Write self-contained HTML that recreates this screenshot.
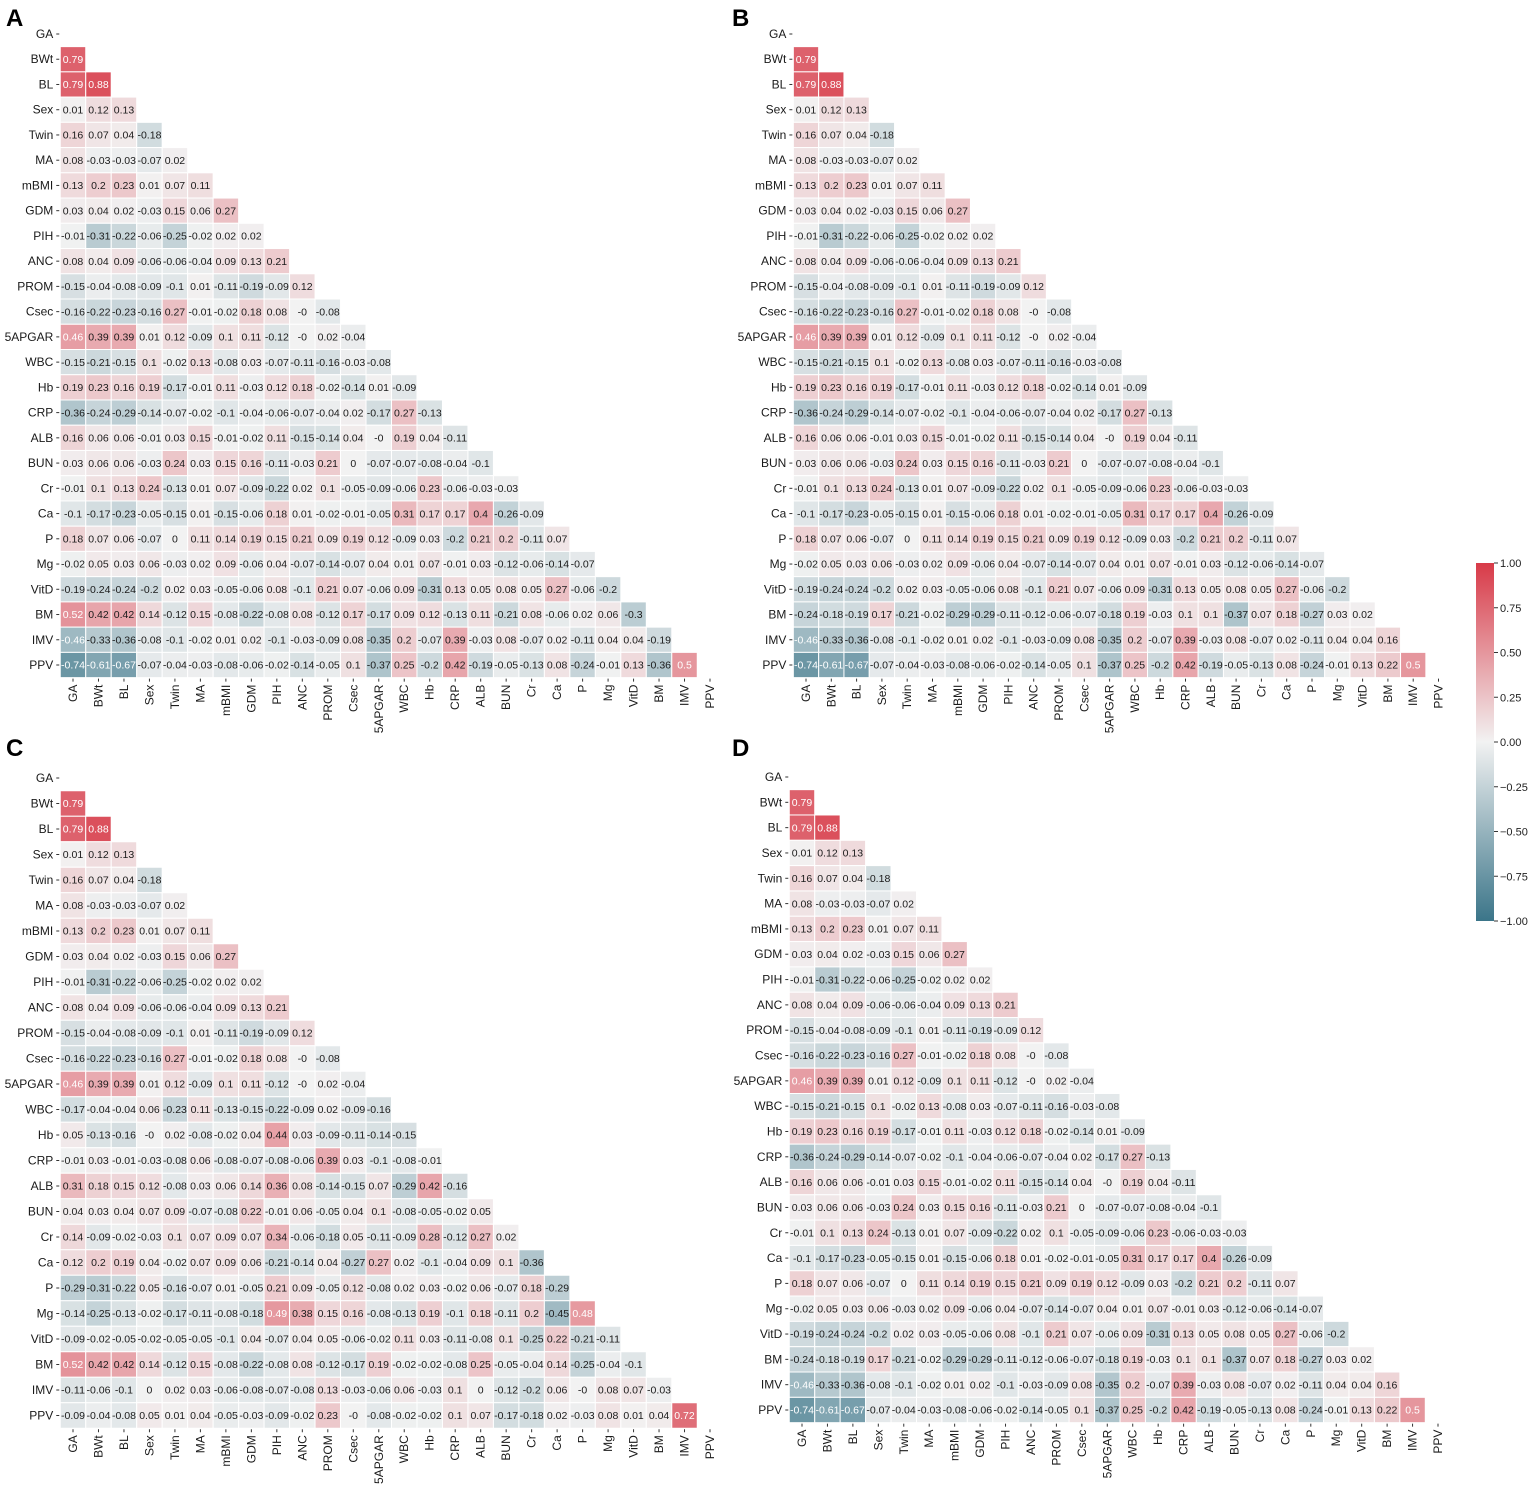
<!DOCTYPE html>
<html><head><meta charset="utf-8"><style>
html,body{margin:0;padding:0;background:#fff;}
svg{display:block;font-family:"Liberation Sans",sans-serif;}
</style></head><body>
<svg id="s" width="1535" height="1486" viewBox="0 0 1535 1486" xmlns="http://www.w3.org/2000/svg">
<text x="6" y="26" font-size="24" font-weight="bold">A</text>
<text x="732" y="26" font-size="24" font-weight="bold">B</text>
<text x="6" y="756" font-size="24" font-weight="bold">C</text>
<text x="732" y="756" font-size="24" font-weight="bold">D</text>
<defs><linearGradient id="cb" x1="0" y1="0" x2="0" y2="1">
<stop offset="0" stop-color="rgb(216,58,72)"/><stop offset="0.5" stop-color="rgb(242,242,242)"/><stop offset="1" stop-color="rgb(59,117,137)"/></linearGradient></defs>
<rect x="1476" y="563" width="18" height="358" fill="url(#cb)"/>
<g id="cbt" font-size="11" fill="#222"></g>
<g id="plots"></g>
</svg>
<script>
var L=["GA","BWt","BL","Sex","Twin","MA","mBMI","GDM","PIH","ANC","PROM","Csec","5APGAR","WBC","Hb","CRP","ALB","BUN","Cr","Ca","P","Mg","VitD","BM","IMV","PPV"];
var common=[
[],
["0.79"],
["0.79","0.88"],
["0.01","0.12","0.13"],
["0.16","0.07","0.04","-0.18"],
["0.08","-0.03","-0.03","-0.07","0.02"],
["0.13","0.2","0.23","0.01","0.07","0.11"],
["0.03","0.04","0.02","-0.03","0.15","0.06","0.27"],
["-0.01","-0.31","-0.22","-0.06","-0.25","-0.02","0.02","0.02"],
["0.08","0.04","0.09","-0.06","-0.06","-0.04","0.09","0.13","0.21"],
["-0.15","-0.04","-0.08","-0.09","-0.1","0.01","-0.11","-0.19","-0.09","0.12"],
["-0.16","-0.22","-0.23","-0.16","0.27","-0.01","-0.02","0.18","0.08","-0","-0.08"],
["0.46","0.39","0.39","0.01","0.12","-0.09","0.1","0.11","-0.12","-0","0.02","-0.04"]];
var lowA=[
["-0.15","-0.21","-0.15","0.1","-0.02","0.13","-0.08","0.03","-0.07","-0.11","-0.16","-0.03","-0.08"],
["0.19","0.23","0.16","0.19","-0.17","-0.01","0.11","-0.03","0.12","0.18","-0.02","-0.14","0.01","-0.09"],
["-0.36","-0.24","-0.29","-0.14","-0.07","-0.02","-0.1","-0.04","-0.06","-0.07","-0.04","0.02","-0.17","0.27","-0.13"],
["0.16","0.06","0.06","-0.01","0.03","0.15","-0.01","-0.02","0.11","-0.15","-0.14","0.04","-0","0.19","0.04","-0.11"],
["0.03","0.06","0.06","-0.03","0.24","0.03","0.15","0.16","-0.11","-0.03","0.21","0","-0.07","-0.07","-0.08","-0.04","-0.1"],
["-0.01","0.1","0.13","0.24","-0.13","0.01","0.07","-0.09","-0.22","0.02","0.1","-0.05","-0.09","-0.06","0.23","-0.06","-0.03","-0.03"],
["-0.1","-0.17","-0.23","-0.05","-0.15","0.01","-0.15","-0.06","0.18","0.01","-0.02","-0.01","-0.05","0.31","0.17","0.17","0.4","-0.26","-0.09"],
["0.18","0.07","0.06","-0.07","0","0.11","0.14","0.19","0.15","0.21","0.09","0.19","0.12","-0.09","0.03","-0.2","0.21","0.2","-0.11","0.07"],
["-0.02","0.05","0.03","0.06","-0.03","0.02","0.09","-0.06","0.04","-0.07","-0.14","-0.07","0.04","0.01","0.07","-0.01","0.03","-0.12","-0.06","-0.14","-0.07"],
["-0.19","-0.24","-0.24","-0.2","0.02","0.03","-0.05","-0.06","0.08","-0.1","0.21","0.07","-0.06","0.09","-0.31","0.13","0.05","0.08","0.05","0.27","-0.06","-0.2"]];
var tailA=[
["0.52","0.42","0.42","0.14","-0.12","0.15","-0.08","-0.22","-0.08","0.08","-0.12","0.17","-0.17","0.09","0.12","-0.13","0.11","-0.21","0.08","-0.06","0.02","0.06","-0.3"],
["-0.46","-0.33","-0.36","-0.08","-0.1","-0.02","0.01","0.02","-0.1","-0.03","-0.09","0.08","-0.35","0.2","-0.07","0.39","-0.03","0.08","-0.07","0.02","-0.11","0.04","0.04","-0.19"],
["-0.74","-0.61","-0.67","-0.07","-0.04","-0.03","-0.08","-0.06","-0.02","-0.14","-0.05","0.1","-0.37","0.25","-0.2","0.42","-0.19","-0.05","-0.13","0.08","-0.24","-0.01","0.13","-0.36","0.5"]];
var tailB=[
["-0.24","-0.18","-0.19","0.17","-0.21","-0.02","-0.29","-0.29","-0.11","-0.12","-0.06","-0.07","-0.18","0.19","-0.03","0.1","0.1","-0.37","0.07","0.18","-0.27","0.03","0.02"],
["-0.46","-0.33","-0.36","-0.08","-0.1","-0.02","0.01","0.02","-0.1","-0.03","-0.09","0.08","-0.35","0.2","-0.07","0.39","-0.03","0.08","-0.07","0.02","-0.11","0.04","0.04","0.16"],
["-0.74","-0.61","-0.67","-0.07","-0.04","-0.03","-0.08","-0.06","-0.02","-0.14","-0.05","0.1","-0.37","0.25","-0.2","0.42","-0.19","-0.05","-0.13","0.08","-0.24","-0.01","0.13","0.22","0.5"]];
var lowC=[
["-0.17","-0.04","-0.04","0.06","-0.23","0.11","-0.13","-0.15","-0.22","-0.09","0.02","-0.09","-0.16"],
["0.05","-0.13","-0.16","-0","0.02","-0.08","-0.02","0.04","0.44","0.03","-0.09","-0.11","-0.14","-0.15"],
["-0.01","0.03","-0.01","-0.03","-0.08","0.06","-0.08","-0.07","-0.08","-0.06","0.39","0.03","-0.1","-0.08","-0.01"],
["0.31","0.18","0.15","0.12","-0.08","0.03","0.06","0.14","0.36","0.08","-0.14","-0.15","0.07","-0.29","0.42","-0.16"],
["0.04","0.03","0.04","0.07","0.09","-0.07","-0.08","0.22","-0.01","0.06","-0.05","0.04","0.1","-0.08","-0.05","-0.02","0.05"],
["0.14","-0.09","-0.02","-0.03","0.1","0.07","0.09","0.07","0.34","-0.06","-0.18","0.05","-0.11","-0.09","0.28","-0.12","0.27","0.02"],
["0.12","0.2","0.19","0.04","-0.02","0.07","0.09","0.06","-0.21","-0.14","0.04","-0.27","0.27","0.02","-0.1","-0.04","0.09","0.1","-0.36"],
["-0.29","-0.31","-0.22","0.05","-0.16","-0.07","0.01","-0.05","0.21","0.09","-0.05","0.12","-0.08","0.02","0.03","-0.02","0.06","-0.07","0.18","-0.29"],
["-0.14","-0.25","-0.13","-0.02","-0.17","-0.11","-0.08","-0.18","0.49","0.38","0.15","0.16","-0.08","-0.13","0.19","-0.1","0.18","-0.11","0.2","-0.45","0.48"],
["-0.09","-0.02","-0.05","-0.02","-0.05","-0.05","-0.1","0.04","-0.07","0.04","0.05","-0.06","-0.02","0.11","0.03","-0.11","-0.08","0.1","-0.25","0.22","-0.21","-0.11"],
["0.52","0.42","0.42","0.14","-0.12","0.15","-0.08","-0.22","-0.08","0.08","-0.12","-0.17","0.19","-0.02","-0.02","-0.08","0.25","-0.05","-0.04","0.14","-0.25","-0.04","-0.1"],
["-0.11","-0.06","-0.1","0","0.02","0.03","-0.06","-0.08","-0.07","-0.08","0.13","-0.03","-0.06","0.06","-0.03","0.1","0","-0.12","-0.2","0.06","-0","0.08","0.07","-0.03"],
["-0.09","-0.04","-0.08","0.05","0.01","0.04","-0.05","-0.03","-0.09","-0.02","0.23","-0","-0.08","-0.02","-0.02","0.1","0.07","-0.17","-0.18","0.02","-0.03","0.08","0.01","0.04","0.72"]];
var A=common.concat(lowA,tailA), B=common.concat(lowA,tailB), C=common.concat(lowC);
function col(v){var c0=[242,242,242],e=v>=0?[216,58,72]:[59,117,137],t=Math.abs(v);
return "rgb("+[0,1,2].map(function(i){return Math.round(c0[i]+(e[i]-c0[i])*t)}).join(",")+")";}
var NS="http://www.w3.org/2000/svg",g=document.getElementById("plots");
function el(n,a,txt){var e=document.createElementNS(NS,n);for(var k in a)e.setAttribute(k,a[k]);if(txt!=null)e.textContent=txt;g.appendChild(e);return e;}
function panel(D,cx0,cy0,cw,ch){
 var x0=cx0-cw/2,y0=cy0-ch/2;
 for(var r=0;r<26;r++){
  var yc=cy0+r*ch;
  el("line",{x1:x0-4,x2:x0-1,y1:yc,y2:yc,stroke:"#333","stroke-width":1});
  el("text",{x:x0-7,y:yc+4,"font-size":12,"text-anchor":"end",fill:"#1a1a1a"},L[r]);
  for(var c=0;c<D[r].length;c++){
   var s=D[r][c],v=parseFloat(s),x=x0+c*cw,y=y0+r*ch;
   el("rect",{x:x,y:y,width:cw,height:ch,fill:col(v),stroke:"#fff","stroke-width":1});
   var a={x:x+cw/2,y:y+ch/2+3.7,"font-size":10.5,"text-anchor":"middle",fill:Math.abs(v)>=0.46?"#fff":"#1a1a1a"};
   if(s.length>=5){a.textLength=24;a.lengthAdjust="spacingAndGlyphs";}
   el("text",a,s);
  }
 }
 var yb=y0+26*ch;
 for(var c=0;c<26;c++){
  var xc=cx0+c*cw;
  el("line",{x1:xc,x2:xc,y1:yb+1,y2:yb+4,stroke:"#333","stroke-width":1});
  el("text",{x:0,y:0,"font-size":12,"text-anchor":"end",fill:"#1a1a1a",transform:"translate("+(xc+4)+","+(yb+7)+") rotate(-90)"},L[c]);
 }
}
panel(A,73,34,25.48,25.24);
panel(B,806,34,25.3,25.24);
panel(C,73,778,25.48,25.5);
panel(B,802,777,25.44,25.32);
var cb=document.getElementById("cbt");
var ticks=[["1.00",0],["0.75",1],["0.50",2],["0.25",3],["0.00",4],["\u22120.25",5],["\u22120.50",6],["\u22120.75",7],["\u22121.00",8]];
ticks.forEach(function(t){var y=563+t[1]*358/8;
 var l=document.createElementNS(NS,"line");l.setAttribute("x1",1494);l.setAttribute("x2",1498);l.setAttribute("y1",y);l.setAttribute("y2",y);l.setAttribute("stroke","#333");cb.appendChild(l);
 var e=document.createElementNS(NS,"text");e.setAttribute("x",1500);e.setAttribute("y",y+4);e.textContent=t[0];cb.appendChild(e);});
</script>
</body></html>
